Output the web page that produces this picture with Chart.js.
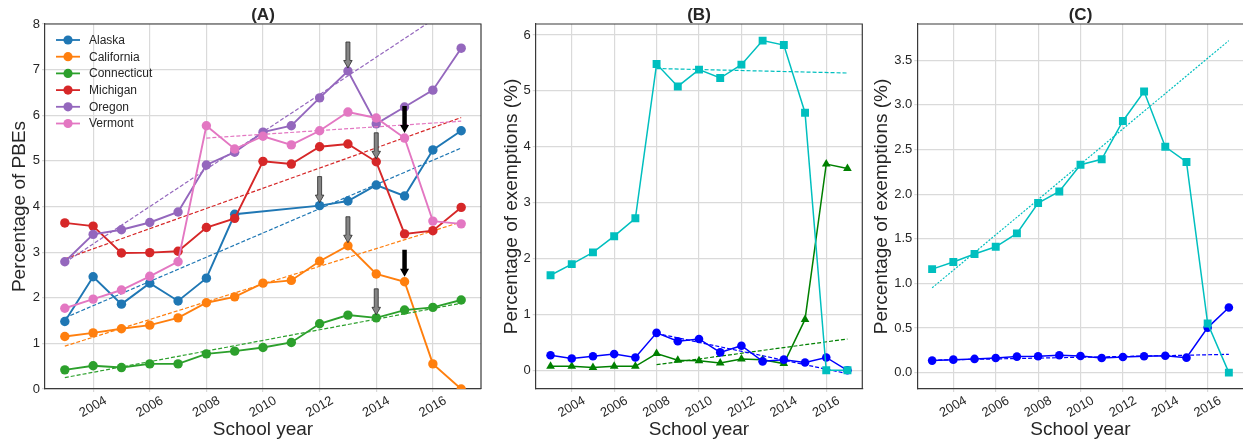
<!DOCTYPE html>
<html>
<head>
<meta charset="utf-8">
<script src="https://cdn.jsdelivr.net/npm/chart.js@4.4.1/dist/chart.umd.min.js"></script>
<style>
  html, body { margin: 0; padding: 0; background: #fff; overflow: hidden; }
  body { width: 1243px; height: 441px; position: relative; }
  canvas { position: absolute; top: 0; }
</style>
</head>
<body>
<canvas id="chartA" width="500" height="441" style="left:0px"></canvas>
<canvas id="chartB" width="380" height="441" style="left:488px"></canvas>
<canvas id="chartC" width="390" height="441" style="left:860px"></canvas>
<script>
const years = [2003, 2004, 2005, 2006, 2007, 2008, 2009, 2010, 2011, 2012, 2013, 2014, 2015, 2016, 2017];
const xTicks = [2004, 2006, 2008, 2010, 2012, 2014, 2016];

// (A) percentage of PBEs per state
const stateNames = ["Alaska", "California", "Connecticut", "Michigan", "Oregon", "Vermont"];
const alaska = [1.48, 2.46, 1.86, 2.32, 1.93, 2.43, 3.83, null, null, 4.02, 4.12, 4.47, 4.23, 5.24, 5.66];
const california = [1.15, 1.23, 1.32, 1.40, 1.56, 1.89, 2.02, 2.32, 2.38, 2.80, 3.14, 2.52, 2.35, 0.55, 0.0];
const connecticut = [0.42, 0.51, 0.47, 0.55, 0.55, 0.77, 0.83, 0.91, 1.02, 1.43, 1.62, 1.56, 1.73, 1.79, 1.95];
const michigan = [3.64, 3.57, 2.98, 2.99, 3.02, 3.54, 3.74, 4.99, 4.93, 5.31, 5.37, 4.98, 3.40, 3.47, 3.98];
const oregon = [2.79, 3.39, 3.49, 3.65, 3.88, 4.91, 5.19, 5.63, 5.77, 6.38, 6.97, 5.81, 6.18, 6.55, 7.47];
const vermont = [1.77, 1.97, 2.17, 2.47, 2.79, 5.77, 5.26, 5.54, 5.35, 5.66, 6.07, 5.94, 5.50, 3.68, 3.62];

// linear trends (start and end year)
const trendYears = [2003, 2017];
const trendYearsLate = [2008, 2017];
const alaskaTrend = [1.56, 5.28];
const californiaTrend = [0.94, 3.66];
const connecticutTrend = [0.25, 1.88];
const michiganTrend = [2.85, 5.95];
const oregonTrend = [2.77, 8.5];
const vermontTrend = [5.50, 5.87];

// arrows: [state, year]
const grayArrows = [["Oregon", 2013], ["Alaska", 2012], ["Michigan", 2014], ["California", 2013], ["Connecticut", 2014]];
const blackArrows = [["Vermont", 2015], ["California", 2015]];

// (B)
const bSquares = [1.70, 1.90, 2.11, 2.40, 2.72, 5.48, 5.08, 5.38, 5.23, 5.47, 5.90, 5.82, 4.61, 0.0, 0.0];
const bCircles = [0.27, 0.21, 0.25, 0.29, 0.23, 0.67, 0.52, 0.56, 0.32, 0.44, 0.16, 0.19, 0.14, 0.23, 0.0];
const bTriangles = [0.07, 0.07, 0.05, 0.07, 0.07, 0.30, 0.18, 0.17, 0.13, 0.20, 0.19, 0.12, 0.91, 3.69, 3.61];
const bSquaresTrend = [5.40, 5.32];
const bCirclesTrend = [0.66, -0.06];
const bTrianglesTrend = [0.10, 0.56];
const bYTicks = [0, 1, 2, 3, 4, 5, 6];

// (C)
const cSquares = [1.16, 1.24, 1.33, 1.41, 1.56, 1.90, 2.03, 2.33, 2.39, 2.82, 3.15, 2.53, 2.36, 0.55, 0.0];
const cCircles = [0.135, 0.146, 0.154, 0.165, 0.18, 0.184, 0.195, 0.187, 0.165, 0.176, 0.184, 0.19, 0.168, 0.505, 0.73];
const cSquaresTrend = [0.95, 3.72];
const cCirclesTrend = [0.14, 0.205];
const cYTicks = [0, 0.5, 1, 1.5, 2, 2.5, 3, 3.5];

const aYTicks = [0, 1, 2, 3, 4, 5, 6, 7, 8];

const stateColors = ["#1f77b4", "#ff7f0e", "#2ca02c", "#d62728", "#9467bd", "#e377c2"];
const cyan = "#00bfbf", blue = "#0000ff", green = "#008000";
const textColor = "#262626";
const gridColor = "#dadada";
const spineColor = "#3a3a3a";

Chart.defaults.font.family = "'Liberation Sans', Arial, sans-serif";
Chart.defaults.color = textColor;

function toXY(xs, ys) {
  return xs.map((x, i) => ({ x: x, y: ys[i] }));
}

function seriesLine(label, vals, color, style, radius, width) {
  return {
    label: label, data: toXY(years, vals),
    borderColor: color, backgroundColor: color,
    borderWidth: width, pointStyle: style, pointRadius: radius, pointBorderWidth: 0,
    spanGaps: true
  };
}

function trendLine(label, xs, vals, color, dash) {
  return {
    label: label, data: toXY(xs, vals),
    borderColor: color, borderWidth: 1.2, borderDash: dash, pointRadius: 0
  };
}

function drawArrow(ctx, x, tipY, len, shaftW, headW, headL, fill, stroke) {
  ctx.beginPath();
  ctx.moveTo(x - shaftW / 2, tipY - len);
  ctx.lineTo(x + shaftW / 2, tipY - len);
  ctx.lineTo(x + shaftW / 2, tipY - headL);
  ctx.lineTo(x + headW / 2, tipY - headL);
  ctx.lineTo(x, tipY);
  ctx.lineTo(x - headW / 2, tipY - headL);
  ctx.lineTo(x - shaftW / 2, tipY - headL);
  ctx.closePath();
  ctx.fillStyle = fill;
  ctx.fill();
  if (stroke) {
    ctx.strokeStyle = stroke;
    ctx.lineWidth = 0.8;
    ctx.stroke();
  }
}

// title, top/right spines, legend, arrows
const panelPlugin = {
  id: "panel",
  afterDatasetsDraw(chart, args, opts) {
    const ctx = chart.ctx;
    const a = chart.chartArea;
    const xs = chart.scales.x, ys = chart.scales.y;
    ctx.save();

    if (opts.arrows) {
      const lookup = {};
      stateNames.forEach((n, i) => lookup[n] = [alaska, california, connecticut, michigan, oregon, vermont][i]);
      grayArrows.forEach(([name, yr]) => {
        const px = xs.getPixelForValue(yr);
        const py = ys.getPixelForValue(lookup[name][years.indexOf(yr)]);
        drawArrow(ctx, px, py - 3, 26, 4, 8.5, 7.5, "#858585", "#2a2a2a");
      });
      blackArrows.forEach(([name, yr]) => {
        const px = xs.getPixelForValue(yr);
        const py = ys.getPixelForValue(lookup[name][years.indexOf(yr)]);
        drawArrow(ctx, px, py - 5, 27, 4.5, 9, 8, "#000", null);
      });
    }

    // top and right spines
    ctx.strokeStyle = spineColor;
    ctx.lineWidth = 1.2;
    ctx.beginPath();
    ctx.moveTo(a.left, a.top);
    ctx.lineTo(a.right, a.top);
    ctx.lineTo(a.right, a.bottom);
    ctx.stroke();

    ctx.fillStyle = textColor;
    ctx.font = "bold 17px 'Liberation Sans', Arial, sans-serif";
    ctx.textAlign = "center";
    ctx.textBaseline = "middle";
    ctx.fillText(opts.title, (a.left + a.right) / 2, a.top - 9);

    if (opts.legend) {
      ctx.font = "12px 'Liberation Sans', Arial, sans-serif";
      ctx.textAlign = "left";
      stateNames.forEach((name, i) => {
        const y = a.top + 16 + i * 16.7;
        const x0 = a.left + 11;
        ctx.strokeStyle = stateColors[i];
        ctx.lineWidth = 1.8;
        ctx.beginPath();
        ctx.moveTo(x0, y);
        ctx.lineTo(x0 + 24, y);
        ctx.stroke();
        ctx.fillStyle = stateColors[i];
        ctx.beginPath();
        ctx.arc(x0 + 12, y, 4.6, 0, Math.PI * 2);
        ctx.fill();
        ctx.fillStyle = textColor;
        ctx.fillText(name, x0 + 33, y + 0.5);
      });
    }
    ctx.restore();
  }
};

function buildScales(yMin, yMax, yTicks, yWidth, yTitle, yTitlePad, fmt) {
  return {
    x: {
      type: "linear", min: 2002.3, max: 2017.7,
      afterBuildTicks: s => { s.ticks = xTicks.map(v => ({ value: v })); },
      afterFit: s => { s.height = 52; },
      grid: { color: gridColor, lineWidth: 1.2, tickLength: 3 },
      border: { display: true, color: spineColor, width: 1.2 },
      ticks: {
        autoSkip: false, minRotation: 30, maxRotation: 30, labelOffset: 12.5, padding: 1,
        color: textColor, font: { size: 13 }, callback: v => String(v)
      },
      title: { display: true, text: "School year", color: textColor, font: { size: 19 }, padding: { top: 0, bottom: 0 } }
    },
    y: {
      type: "linear", min: yMin, max: yMax,
      afterBuildTicks: s => { s.ticks = yTicks.map(v => ({ value: v })); },
      afterFit: s => { s.width = yWidth; },
      grid: { color: gridColor, lineWidth: 1.2, tickLength: 3 },
      border: { display: true, color: spineColor, width: 1.2 },
      ticks: { autoSkip: false, padding: 2, color: textColor, font: { size: 13 }, callback: fmt },
      title: { display: true, text: yTitle, color: textColor, font: { size: 19 }, padding: { top: yTitlePad, bottom: 0 } }
    }
  };
}

function makeChart(id, datasets, scales, padRight, panelOpts) {
  return new Chart(document.getElementById(id), {
    type: "line",
    data: { datasets: datasets },
    options: {
      responsive: false, animation: false, devicePixelRatio: 1,
      layout: { padding: { top: 24, right: padRight, left: 0, bottom: 0 } },
      scales: scales,
      plugins: { legend: { display: false }, tooltip: { enabled: false }, panel: panelOpts }
    },
    plugins: [panelPlugin]
  });
}

// panel A
const stateSeries = [alaska, california, connecticut, michigan, oregon, vermont];
const stateTrends = [alaskaTrend, californiaTrend, connecticutTrend, michiganTrend, oregonTrend, vermontTrend];
const dsA = [];
stateNames.forEach((name, i) => {
  const s = seriesLine(name, stateSeries[i], stateColors[i], "circle", 4.7, 1.9);
  s.order = -i;
  dsA.push(s);
  const t = trendLine(name + " trend", name === "Vermont" ? trendYearsLate : trendYears, stateTrends[i], stateColors[i], [4, 2]);
  t.order = -i;
  dsA.push(t);
});
makeChart("chartA", dsA,
  buildScales(0, 8, aYTicks, 45, "Percentage of PBEs", 8.6, v => String(v)),
  19, { title: "(A)", legend: true, arrows: true });

// panel B
makeChart("chartB", [
  seriesLine("squares", bSquares, cyan, "rect", 5.6, 1.5),
  trendLine("squares trend", trendYearsLate, bSquaresTrend, cyan, [4, 2]),
  seriesLine("circles", bCircles, blue, "circle", 4.3, 1.5),
  trendLine("circles trend", trendYearsLate, bCirclesTrend, blue, [4, 2]),
  seriesLine("triangles", bTriangles, green, "triangle", 5, 1.5),
  trendLine("triangles trend", trendYearsLate, bTrianglesTrend, green, [4, 2])
], buildScales(-0.335, 6.197, bYTicks, 47.7, "Percentage of exemptions (%)", 12.6, v => String(v)),
  5.7, { title: "(B)" });

// panel C
makeChart("chartC", [
  seriesLine("squares", cSquares, cyan, "rect", 5.6, 1.5),
  trendLine("squares trend", trendYears, cSquaresTrend, cyan, [2, 1.5]),
  seriesLine("circles", cCircles, blue, "circle", 4.3, 1.5),
  trendLine("circles trend", trendYears, cCirclesTrend, blue, [4, 2])
], buildScales(-0.183, 3.906, cYTicks, 57.3, "Percentage of exemptions (%)", 10.1, v => v.toFixed(1)),
  6.3, { title: "(C)" });
</script>
</body>
</html>
